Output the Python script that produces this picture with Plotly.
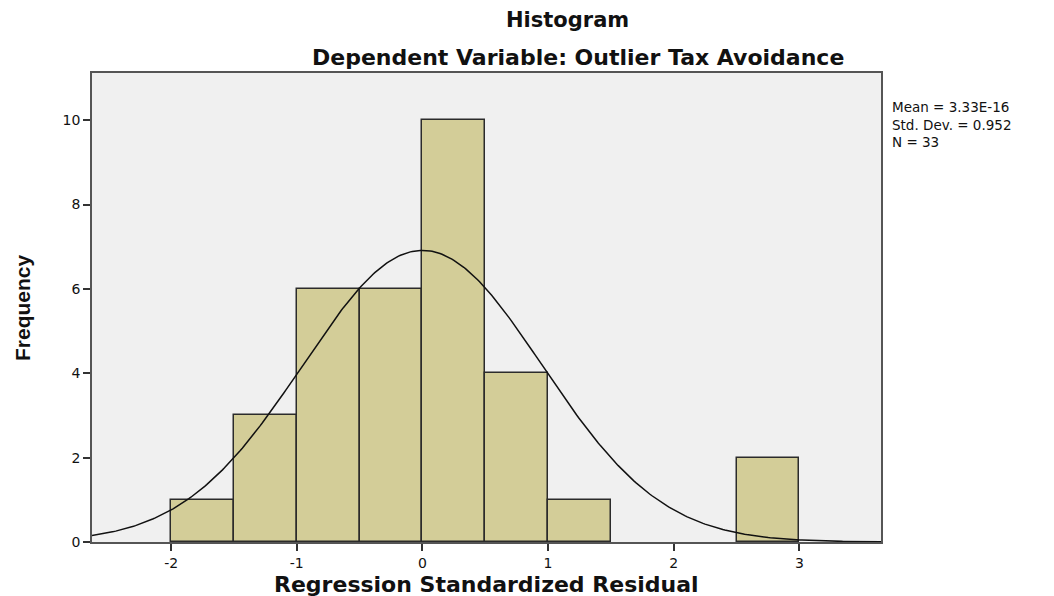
import numpy as np
import plotly.graph_objects as go

bin_left = [-2.0, -1.5, -1.0, -0.5, 0.0, 0.5, 1.0, 1.5, 2.0, 2.5]
counts = [1, 3, 6, 6, 10, 4, 1, 0, 0, 2]
bin_width = 0.5
mean_val = 3.33e-16
std_val = 0.952
n_val = 33
x_ticks = [-2, -1, 0, 1, 2, 3]
y_ticks = [0, 2, 4, 6, 8, 10]
stats_lines = ["Mean = 3.33E-16", "Std. Dev. = 0.952", "N = 33"]

x_range = [-2.63, 3.65]
y_range = [0, 11.12]

OFF = 7  # page offset of the figure in the screenshot
W, H = 1054 - OFF, 596 - OFF
L, T = 91 - OFF, 72 - OFF
R = W - (880 - OFF)
B = H - (541 - OFF)
pw, ph = W - L - R, H - T - B


def px_x(p):
    return (p - OFF - L) / pw


def px_y(p):
    return (H - B - (p - OFF)) / ph


centers = [b + bin_width / 2 for b in bin_left]
bx = [c for c, n in zip(centers, counts) if n > 0]
by = [n for n in counts if n > 0]

fig = go.Figure()
fig.add_trace(go.Bar(
    x=bx, y=by, width=bin_width,
    marker=dict(color="#d3cd98", line=dict(color="#2b2b2b", width=1.5)),
    hoverinfo="x+y",
))

xs = np.linspace(x_range[0], x_range[1], 400)
ys = n_val * bin_width * np.exp(-0.5 * ((xs - mean_val) / std_val) ** 2) / (std_val * np.sqrt(2 * np.pi))
fig.add_trace(go.Scatter(x=xs, y=ys, mode="lines", line=dict(color="#111111", width=1.5), hoverinfo="skip"))

fig.update_layout(
    width=W, height=H,
    margin=dict(l=L, r=R, t=T, b=B, autoexpand=False),
    paper_bgcolor="white",
    plot_bgcolor="#f0f0f0",
    showlegend=False,
    bargap=0,
    font=dict(family="DejaVu Sans, Liberation Sans, Arial, sans-serif", color="#111111"),
)
fig.add_annotation(text="<b>Histogram</b>", x=px_x(566), xref="paper", y=px_y(19), yref="paper",
                   showarrow=False, font=dict(size=21), xanchor="center", yanchor="middle")
fig.add_annotation(text="<b>Dependent Variable: Outlier Tax Avoidance</b>", x=px_x(577), xref="paper",
                   y=px_y(56), yref="paper", showarrow=False, font=dict(size=22), xanchor="center",
                   yanchor="middle")
fig.add_annotation(text="<br>".join(stats_lines), x=px_x(889), xref="paper", y=px_y(96), yref="paper",
                   showarrow=False, xanchor="left", yanchor="top", align="left", font=dict(size=13.5))
fig.add_annotation(text="<b>Regression Standardized Residual</b>", x=px_x(485), xref="paper",
                   y=px_y(583), yref="paper", showarrow=False, xanchor="center", yanchor="middle",
                   font=dict(size=22))
fig.add_annotation(text="<b>Frequency</b>", x=px_x(21), xref="paper", y=px_y(307), yref="paper",
                   showarrow=False, xanchor="center", yanchor="middle", textangle=-90,
                   font=dict(size=21, family="Liberation Sans Narrow, Arial Narrow, sans-serif"))

fig.update_xaxes(
    range=x_range, tickvals=x_ticks, ticktext=[str(v) for v in x_ticks],
    showgrid=False, zeroline=False, ticks="outside", ticklen=7, tickwidth=1.5, tickcolor="#333",
    showline=True, linecolor="#555", linewidth=1.5, mirror=True, automargin=False,
    tickfont=dict(size=14),
)
fig.update_yaxes(
    range=y_range, tickvals=y_ticks,
    showgrid=False, zeroline=False, ticks="outside", ticklen=7, tickwidth=1.5, tickcolor="#333",
    showline=True, linecolor="#555", linewidth=1.5, mirror=True, automargin=False,
    tickfont=dict(size=14),
)

fig.write_html("out.html")
